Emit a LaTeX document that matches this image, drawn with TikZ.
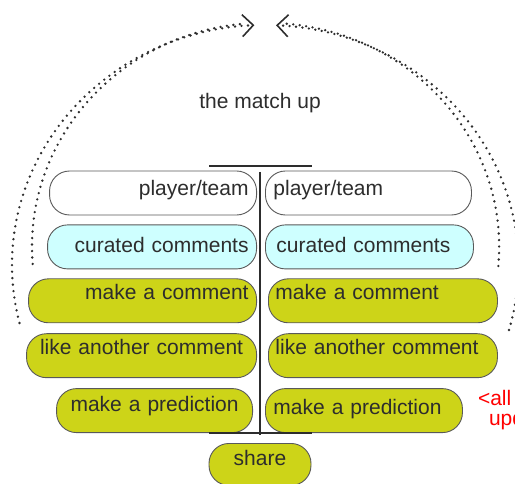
\documentclass[tikz,border=0pt]{standalone}
\usepackage{fontspec}
\setmainfont{Liberation Sans}
\usepackage{tikz}
\usetikzlibrary{positioning}
\usetikzlibrary{arrows.meta}
\definecolor{moss}{RGB}{205,212,24}
\definecolor{paleaqua}{RGB}{206,255,255}
\definecolor{inkgray}{RGB}{45,45,45}
\tikzstyle{pill} = [draw=black!65,line width=0.9pt,rounded corners=20pt,minimum height=44pt,inner xsep=8pt,inner ysep=0pt,text height=15pt,text depth=5pt,font=\fontsize{21}{24}\selectfont,text=inkgray]
\tikzstyle{lpill} = [pill,align=right]
\tikzstyle{rpill} = [pill,align=left]
\tikzstyle{dotline} = [inkgray,line width=2.6pt,line cap=round,dash pattern=on 0pt off 6.5pt]
\tikzstyle{tip} = [-{Straight Barb[length=11pt,width=22pt,line width=1.6pt]}]
\tikzstyle{bar} = [inkgray,line width=2.6pt]

\begin{document}
\begin{tikzpicture}[x=1pt,y=1pt]
				\useasboundingbox (0,0) rectangle (515,-484);
				%Arcs
				\draw[dotline,tip] (19.5,-323) arc[start angle=194,end angle=92.4,x radius=253,y radius=240];
				\draw[dotline] (32.7,-264) arc[start angle=184.4,end angle=95,x radius=233,y radius=224];
				\draw[dotline,tip] (509,-330) arc[start angle=-15.7,end angle=87.6,x radius=253,y radius=240];
				\draw[dotline] (498.3,-266) arc[start angle=-4.9,end angle=85,x radius=233,y radius=224];
				
				%Nodes
				\node[font=\fontsize{21}{24}\selectfont,text=inkgray] (title) at (260,-103) {the match up};
				
				\node[lpill,fill=white,text width=191pt,text depth=10pt,anchor=east] (pl1) at (257,-193) {player/team};
				\node[lpill,fill=paleaqua,text width=193pt,text depth=4pt,below=9pt of pl1.south east,anchor=north east] (pl2) {curated comments};
				\node[lpill,fill=moss,text width=212pt,text depth=17pt,below=9pt of pl2.south east,anchor=north east] (pl3) {make a comment};
				\node[pill,fill=moss,text width=214pt,text depth=17pt,align=center,below=10pt of pl3.south east,anchor=north east] (pl4) {like another comment};
				\node[pill,fill=moss,text width=180pt,text depth=13pt,align=center,below=10pt of pl4.south east,xshift=-4pt,anchor=north east] (pl5) {make a prediction};
				
				\node[rpill,fill=white,text width=190pt,text depth=10pt,right=8pt of pl1] (pr1) {player/team};
				\node[rpill,fill=paleaqua,inner xsep=11pt,text width=186pt,text depth=4pt,right=8pt of pl2] (pr2) {curated comments};
				\node[rpill,fill=moss,inner xsep=7pt,text width=215pt,text depth=17pt,right=11pt of pl3] (pr3) {make a comment};
				\node[rpill,fill=moss,inner xsep=7pt,text width=215pt,text depth=17pt,right=11pt of pl4] (pr4) {like another comment};
				\node[rpill,fill=moss,text width=181pt,text depth=7pt,right=12pt of pl5] (pr5) {make a prediction};
				
				\coordinate (spineT) at (260,-172);
				\coordinate (spineB) at (260,-435);
				\coordinate (barTL) at (209,-166);
				\coordinate (barTR) at (312,-166);
				\coordinate (barBL) at (209,-433);
				\coordinate (barBR) at (312,-433);
				
				\node[pill,fill=moss,minimum width=102pt,minimum height=42pt,text depth=12pt,below=8pt of spineB] (share) {share};
				
				\node[font=\fontsize{21}{24}\selectfont,text=red,anchor=west] (note1) at (474.5,-398) {<all c};
				\node[font=\fontsize{21}{24}\selectfont,text=red,anchor=west] (note2) at (485.5,-420) {upd};
				
				%Lines
				\draw[bar] (barTL) -- (barTR);
				\draw[bar] (barBL) -- (barBR);
				\draw[inkgray,line width=2pt] (spineT) -- (spineB);
			\end{tikzpicture}
\end{document}
